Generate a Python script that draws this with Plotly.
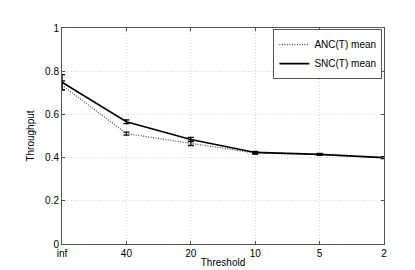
import plotly.graph_objects as go

thresholds = ["inf", "40", "20", "10", "5", "2"]
anc_mean = [0.735, 0.511, 0.466, 0.421, 0.414, 0.399]
anc_err = [0.02, 0.007, 0.01, 0.005, 0.004, 0.004]
snc_mean = [0.749, 0.566, 0.484, 0.424, 0.415, 0.400]
snc_err = [0.035, 0.009, 0.01, 0.005, 0.004, 0.004]

xpos = list(range(len(thresholds)))

fig = go.Figure()
fig.add_trace(go.Scatter(
    x=xpos, y=anc_mean, mode="lines", name="ANC(T) mean",
    line=dict(color="#444444", width=1.2, dash="1px,1.5px"),
    error_y=dict(type="data", array=anc_err, color="black", thickness=1.3, width=3),
))
fig.add_trace(go.Scatter(
    x=xpos, y=snc_mean, mode="lines", name="SNC(T) mean",
    line=dict(color="black", width=1.6),
    error_y=dict(type="data", array=snc_err, color="black", thickness=1.3, width=3),
))

axis_common = dict(
    showline=True, linecolor="#555555", linewidth=1, mirror="ticks",
    ticks="inside", ticklen=3, tickcolor="#555555",
    showgrid=True, gridcolor="#d4d4d4", griddash="1px,2px", gridwidth=1,
    zeroline=False, tickfont=dict(family="Liberation Sans, Arial", size=10, color="black"),
)

fig.update_layout(
    width=415, height=270,
    margin=dict(l=54, r=39, t=20, b=31),
    plot_bgcolor="white", paper_bgcolor="white",
    font=dict(family="Liberation Sans, Arial", size=10, color="black"),
    xaxis=dict(range=[0, 5], tickmode="array", tickvals=xpos, ticktext=thresholds,
               title=dict(text="Threshold", standoff=0, font=dict(size=10)), **axis_common),
    yaxis=dict(range=[0, 1], tickvals=[0, 0.2, 0.4, 0.6, 0.8, 1], ticktext=["0", "0.2", "0.4", "0.6", "0.8", "1"],
               title=dict(text="Throughput", standoff=8, font=dict(size=10)), **axis_common),
    legend=dict(x=0.995, y=0.995, xanchor="right", yanchor="top",
                bordercolor="#555555", borderwidth=1, bgcolor="white",
                font=dict(size=10), tracegroupgap=0, itemwidth=30,
                itemclick=False),
    showlegend=True,
)

fig.write_html("out.html")
